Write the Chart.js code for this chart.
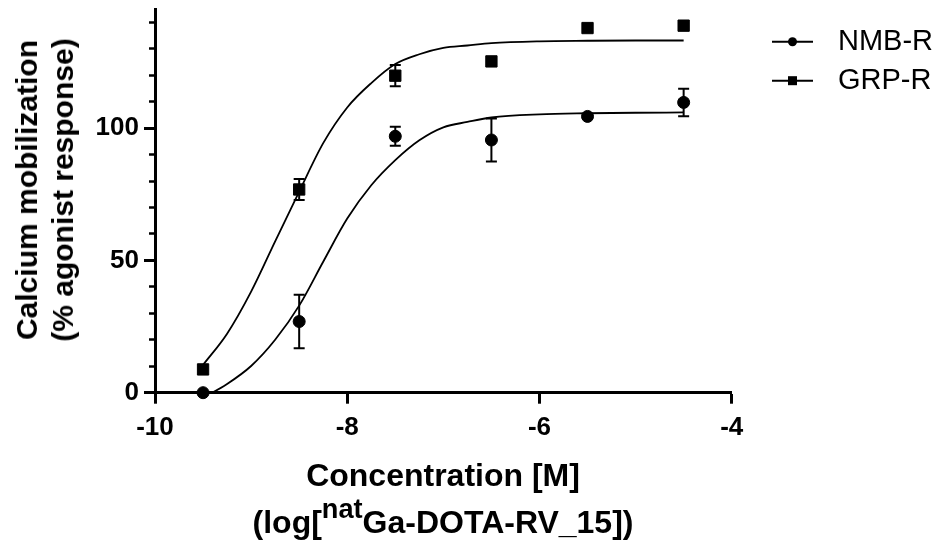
<!DOCTYPE html>
<html>
<head>
<meta charset="utf-8">
<script src="https://cdn.jsdelivr.net/npm/chart.js@4.4.1/dist/chart.umd.min.js"></script>
<style>
  html, body { margin: 0; padding: 0; background: #fff; }
  #wrap { position: relative; width: 941px; height: 549px; overflow: hidden; }
  canvas { position: absolute; left: 0; top: 0; }
  .t { position: absolute; white-space: nowrap; color: #000;
       font-family: "Liberation Sans", Arial, Helvetica, sans-serif; font-weight: bold; }
  .xt { left: 443px; transform: translateX(-50%); font-size: 32px; line-height: 32px; }
  .xt sup { font-size: 0.85em; position: relative; top: -0.55em; vertical-align: baseline; line-height: 0; }
  .yt { left: 45px; top: 190px; transform: translate(-50%, -50%) rotate(-90deg);
        font-size: 30px; line-height: 36px; text-align: center; }
</style>
</head>
<body>
<div id="wrap">
  <canvas id="c" width="941" height="549"></canvas>
  <div class="t yt" id="yt"></div>
  <div class="t xt" id="xt1" style="top:459px"></div>
  <div class="t xt" id="xt2" style="top:506px">(log[<sup>nat</sup>Ga-DOTA-RV_15])</div>
</div>
<script>
// ---- data ----
const seriesNames = ['NMB-R', 'GRP-R'];
const concentrations = [-9.5, -8.5, -7.5, -6.5, -5.5, -4.5];
const nmbMean = [0, 26.9, 96.9, 95.5, 104.4, 109.7];
const nmbErr  = [0, 10.1, 3.6, 8.1, 0, 5.2];
const grpMean = [8.8, 76.8, 119.8, 125.2, 137.8, 138.7];
const grpErr  = [0, 4.0, 4.0, 0, 0, 0];
// fitted curves
const fitX   = [-9.5, -9.25, -9.0, -8.75, -8.5, -8.25, -8.0, -7.75, -7.5, -7.25, -7.0, -6.75, -6.5, -6.0, -5.5, -5.0, -4.5];
const nmbFit = [-1.9, 3.3, 10.1, 20.0, 32.9, 49.5, 65.8, 78.4, 87.9, 95.4, 100.3, 102.3, 104.0, 105.2, 105.6, 105.8, 105.9];
const grpFit = [10.5, 22.3, 38.2, 57.2, 76.0, 94.3, 107.8, 117.0, 124.2, 127.9, 130.3, 131.2, 132.1, 132.8, 133.0, 133.1, 133.1];
// axes
const xTickValues = [-10, -8, -6, -4];
const xTickLabels = ['-10', '-8', '-6', '-4'];
const yTickValues = [0, 50, 100];
const yTickLabels = ['0', '50', '100'];
const yTitleLines = ['Calcium mobilization', '(% agonist response)'];
const xTitleLine1 = 'Concentration [M]';

document.getElementById('yt').innerHTML = yTitleLines.join('<br>');
document.getElementById('xt1').textContent = xTitleLine1;

const FONT = '"Liberation Sans", Arial, Helvetica, sans-serif';
Chart.defaults.font.family = FONT;
Chart.defaults.color = '#000';

const pts = (xs, ys) => xs.map((x, i) => ({x: x, y: ys[i]}));

const errorBars = {
  id: 'errorBars',
  afterDatasetsDraw(chart) {
    const ctx = chart.ctx, ys = chart.scales.y, xs = chart.scales.x;
    chart.data.datasets.forEach((ds) => {
      if (!ds.errors) return;
      ctx.save();
      ctx.strokeStyle = '#000';
      ctx.lineWidth = 2;
      ds.data.forEach((p, i) => {
        const e = ds.errors[i];
        if (!e) return;
        const px = xs.getPixelForValue(p.x);
        const top = ys.getPixelForValue(p.y + e);
        const bot = ys.getPixelForValue(p.y - e);
        ctx.beginPath();
        ctx.moveTo(px, top); ctx.lineTo(px, bot);
        ctx.moveTo(px - 5.5, top); ctx.lineTo(px + 5.5, top);
        ctx.moveTo(px - 5.5, bot); ctx.lineTo(px + 5.5, bot);
        ctx.stroke();
      });
      ctx.restore();
    });
  }
};

const sideLegend = {
  id: 'sideLegend',
  afterDraw(chart) {
    const ctx = chart.ctx;
    const items = chart.data.datasets.filter(d => d.legendItem);
    ctx.save();
    items.forEach((ds, i) => {
      const cy = 41.7 + i * 39;
      ctx.strokeStyle = '#000';
      ctx.fillStyle = '#000';
      ctx.lineWidth = 2;
      ctx.beginPath();
      ctx.moveTo(772, cy); ctx.lineTo(813, cy);
      ctx.stroke();
      if (ds.pointStyle === 'circle') {
        ctx.beginPath(); ctx.arc(792.5, cy, 4.5, 0, Math.PI * 2); ctx.fill();
      } else {
        ctx.fillRect(788, cy - 4.5, 9, 9);
      }
      ctx.font = '29px ' + FONT;
      ctx.textBaseline = 'middle';
      ctx.textAlign = 'left';
      ctx.fillText(ds.label, 838, cy);
    });
    ctx.restore();
  }
};

new Chart(document.getElementById('c'), {
  type: 'scatter',
  data: {
    datasets: [
      { label: seriesNames[0], legendItem: true, data: pts(concentrations, nmbMean), errors: nmbErr,
        pointStyle: 'circle', pointRadius: 6, pointBackgroundColor: '#000', pointBorderColor: '#000',
        pointBorderWidth: 1, showLine: false, clip: false },
      { label: seriesNames[1], legendItem: true, data: pts(concentrations, grpMean), errors: grpErr,
        pointStyle: 'rect', pointRadius: 8, pointBackgroundColor: '#000', pointBorderColor: '#000',
        pointBorderWidth: 1, showLine: false, clip: false },
      { label: seriesNames[0] + ' fit', data: pts(fitX, nmbFit), showLine: true, pointRadius: 0,
        borderColor: '#000', borderWidth: 1.8, cubicInterpolationMode: 'monotone', fill: false },
      { label: seriesNames[1] + ' fit', data: pts(fitX, grpFit), showLine: true, pointRadius: 0,
        borderColor: '#000', borderWidth: 1.8, cubicInterpolationMode: 'monotone', fill: false }
    ]
  },
  options: {
    responsive: false,
    animation: false,
    devicePixelRatio: 1,
    layout: { padding: { top: 8, right: 209.3, left: 0, bottom: 0 } },
    plugins: { legend: { display: false }, tooltip: { enabled: false } },
    scales: {
      x: {
        type: 'linear', min: -10, max: -4,
        afterBuildTicks: s => { s.ticks = xTickValues.map(v => ({value: v})); },
        ticks: { callback: (v) => xTickLabels[xTickValues.indexOf(v)], color: '#000',
                 font: { size: 26, weight: 'bold' }, padding: 9, maxRotation: 0, autoSkip: false },
        grid: { drawOnChartArea: false, drawTicks: true, tickLength: 11, tickWidth: 3, tickColor: '#000' },
        border: { display: true, width: 3, color: '#000' },
        afterFit: s => { s.height = 156.3; s.paddingLeft = 0; s.paddingRight = 0; }
      },
      y: {
        type: 'linear', position: 'left', weight: 10, min: 0, max: 145,
        afterBuildTicks: s => { s.ticks = yTickValues.map(v => ({value: v})); },
        ticks: { callback: (v) => yTickLabels[yTickValues.indexOf(v)], color: '#000',
                 font: { size: 26, weight: 'bold' }, padding: 5 },
        grid: { drawOnChartArea: false, drawTicks: true, tickLength: 11, tickWidth: 3, tickColor: '#000' },
        border: { display: true, width: 3, color: '#000' },
        afterFit: s => { s.width = 155; s.paddingTop = 0; s.paddingBottom = 0; }
      },
      yMinor: {
        type: 'linear', position: 'left', weight: 0, min: 0, max: 145,
        ticks: { stepSize: 10, display: false, includeBounds: false },
        grid: { drawOnChartArea: false, drawTicks: true, tickLength: 6, tickWidth: 2.5, tickColor: '#000' },
        border: { display: false },
        afterFit: s => { s.width = 0; s.paddingTop = 0; s.paddingBottom = 0; }
      }
    }
  },
  plugins: [errorBars, sideLegend]
});
</script>
</body>
</html>
